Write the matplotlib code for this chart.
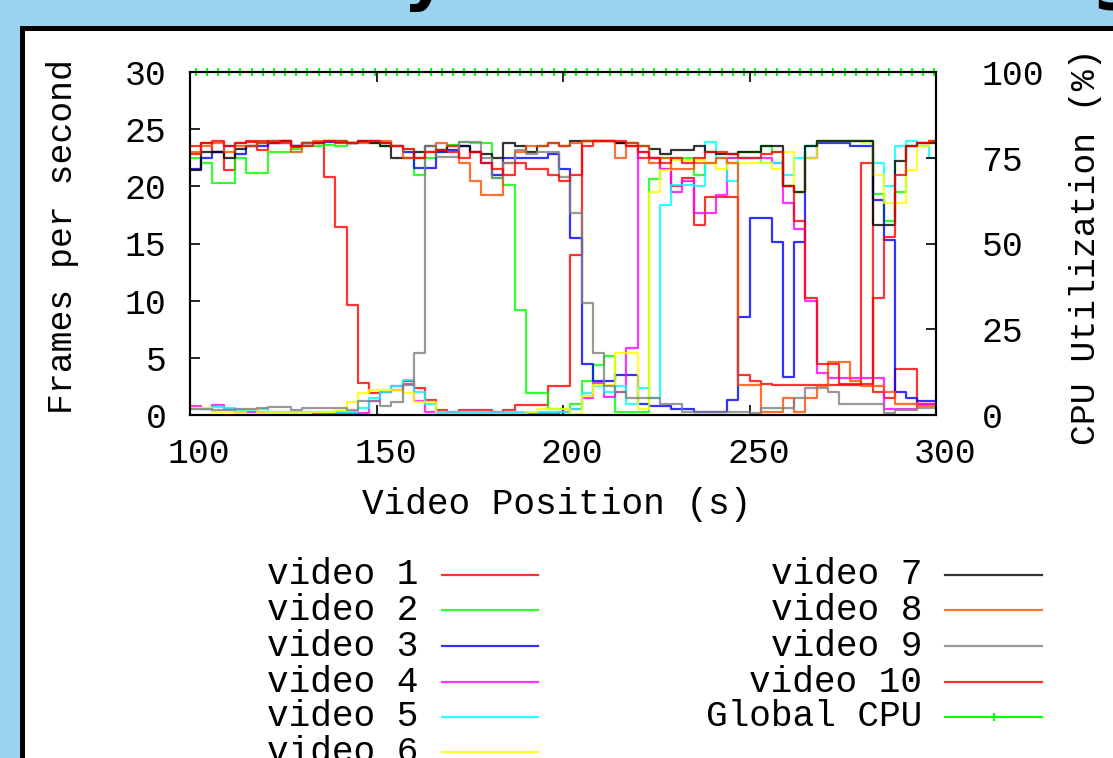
import matplotlib
matplotlib.use('Agg')
import matplotlib.pyplot as plt
from matplotlib.lines import Line2D
from matplotlib.patches import Rectangle
from matplotlib.transforms import ScaledTranslation

plt.rcParams['font.family'] = ['Liberation Mono', 'DejaVu Sans Mono']

W, H = 1113, 758

# start of each 3 s sample (video position, s)
t = list(range(100, 300, 3))

names = ['video 1', 'video 2', 'video 3', 'video 4', 'video 5',
         'video 6', 'video 7', 'video 8', 'video 9', 'video 10']
# gnuplot postscript line colours
colors = ['#ff0000', '#00ff00', '#0000ff', '#ff00ff', '#00ffff',
          '#ffff00', '#000000', '#ff4d00', '#808080', '#ff0000']

# frames per second, one value per sample
video1 = [23.5, 23.8, 23.0, 21.4, 23.8, 23.9, 23.2, 23.8, 24.0, 23.4,
          23.8, 23.9, 20.8, 16.4, 9.6, 2.8, 1.9, 2.0, 2.2, 3.0,
          2.4, 1.3, 0.4, 0.3, 0.4, 0.4, 0.4, 0.3, 0.4, 0.9,
          0.9, 0.9, 2.5, 2.5, 14.0, 24.0, 24.0, 24.0, 23.8, 23.5,
          22.5, 22.5, 21.5, 20.0, 20.7, 16.6, 19.1, 19.1, 19.1, 3.5,
          3.0, 2.7, 2.6, 2.6, 2.6, 2.6, 2.6, 2.6, 2.6, 2.6,
          22.0, 2.0, 1.5, 4.0, 4.0, 1.0, 1.0]
video2 = [22.5, 22.0, 20.3, 20.3, 22.5, 21.2, 21.2, 23.0, 23.0, 23.3,
          23.5, 23.5, 23.6, 23.5, 23.8, 23.9, 23.8, 23.5, 23.5, 23.3,
          21.0, 22.5, 23.0, 23.6, 23.9, 23.8, 23.8, 20.7, 20.1, 9.2,
          1.9, 1.9, 0.5, 0.5, 1.0, 3.0, 4.4, 5.2, 0.3, 0.3,
          0.3, 20.6, 22.5, 22.5, 22.5, 21.0, 22.0, 22.5, 22.5, 23.0,
          23.0, 23.5, 23.0, 20.0, 19.5, 23.5, 24.0, 24.0, 24.0, 24.0,
          24.0, 19.3, 17.0, 19.5, 23.5, 23.8, 24.0]
video3 = [21.5, 22.5, 23.0, 23.5, 22.8, 23.5, 23.5, 23.8, 23.8, 23.5,
          23.8, 23.8, 23.9, 23.9, 23.8, 23.9, 24.0, 23.8, 23.5, 23.0,
          21.6, 21.6, 23.0, 23.2, 23.5, 23.0, 22.0, 21.0, 22.5, 22.5,
          22.5, 22.5, 22.8, 21.5, 15.5, 4.5, 3.0, 3.0, 3.5, 3.5,
          1.0, 0.8, 0.8, 0.5, 0.5, 0.3, 0.3, 0.3, 1.3, 8.6,
          17.2, 17.2, 15.1, 3.3, 15.1, 22.5, 23.8, 23.8, 23.8, 23.5,
          23.5, 18.8, 15.3, 2.0, 1.5, 1.2, 1.2]
video4 = [0.8, 0.5, 0.9, 0.5, 0.3, 0.3, 0.3, 0.3, 0.3, 0.3,
          0.3, 0.2, 0.2, 0.2, 0.2, 0.2, 1.2, 2.0, 2.5, 2.7,
          1.2, 0.3, 0.2, 0.2, 0.2, 0.2, 0.2, 0.2, 0.2, 0.2,
          0.2, 0.2, 0.2, 0.3, 0.5, 1.5, 2.8, 1.6, 2.0, 5.9,
          23.0, 22.5, 21.5, 19.5, 20.5, 17.7, 17.7, 19.2, 22.5, 22.5,
          22.5, 22.5, 22.0, 18.5, 16.3, 10.0, 3.7, 3.2, 3.2, 3.2,
          3.2, 3.2, 0.5, 0.5, 0.5, 1.0, 1.0]
video5 = [0.5, 0.5, 0.7, 0.6, 0.4, 0.4, 0.5, 0.3, 0.3, 0.3,
          0.3, 0.3, 0.3, 0.3, 0.3, 0.6, 1.5, 2.0, 2.5, 3.1,
          2.0, 1.0, 0.3, 0.3, 0.3, 0.3, 0.3, 0.3, 0.3, 0.3,
          0.3, 0.3, 0.3, 0.3, 0.5, 1.9, 2.5, 2.0, 2.5, 1.0,
          2.4, 1.5, 18.4, 20.1, 20.1, 20.0, 23.9, 22.5, 20.5, 22.5,
          22.5, 22.0, 22.0, 21.0, 22.5, 23.5, 24.0, 24.0, 24.0, 24.0,
          24.0, 22.0, 20.0, 23.5, 24.0, 23.5, 22.5]
video6 = [0.6, 0.6, 0.3, 0.3, 0.3, 0.5, 0.3, 0.3, 0.3, 0.3,
          0.3, 0.3, 0.3, 0.4, 1.1, 1.9, 2.2, 2.2, 2.2, 1.9,
          1.1, 1.1, 0.1, 0.1, 0.1, 0.1, 0.1, 0.1, 0.1, 0.1,
          0.3, 0.5, 0.5, 0.5, 0.1, 1.7, 2.6, 2.6, 5.4, 5.4,
          0.5, 19.5, 21.4, 22.3, 22.3, 22.3, 22.0, 21.5, 22.0, 22.0,
          22.0, 22.0, 21.5, 23.0, 19.5, 22.5, 24.0, 24.0, 24.0, 24.0,
          23.8, 21.0, 18.5, 18.5, 21.4, 23.5, 24.0]
video7 = [21.4, 23.0, 23.0, 22.5, 23.3, 23.5, 23.8, 24.0, 24.0, 23.5,
          23.8, 23.8, 24.0, 24.0, 23.8, 24.0, 23.8, 23.5, 22.5, 22.5,
          23.0, 23.5, 23.2, 23.5, 23.5, 23.0, 22.8, 22.5, 23.8, 23.5,
          23.0, 23.5, 23.8, 23.5, 24.0, 24.0, 24.0, 24.0, 23.8, 23.8,
          23.5, 23.3, 22.8, 23.2, 23.2, 23.5, 23.0, 22.8, 22.8, 23.0,
          23.0, 23.5, 23.5, 20.0, 19.5, 23.5, 24.0, 24.0, 24.0, 24.0,
          24.0, 16.6, 16.6, 22.2, 23.5, 23.8, 23.8]
video8 = [23.0, 23.5, 23.8, 23.0, 23.5, 23.5, 23.8, 24.0, 23.8, 23.0,
          23.8, 24.0, 24.0, 24.0, 23.8, 23.8, 24.0, 24.0, 23.5, 22.5,
          22.5, 23.0, 23.8, 23.5, 22.0, 20.5, 19.2, 19.2, 22.0, 23.0,
          23.5, 23.5, 23.8, 23.5, 23.8, 24.0, 24.0, 24.0, 22.5, 23.8,
          23.5, 22.0, 22.5, 21.5, 21.5, 22.0, 22.0, 22.5, 22.0, 2.6,
          2.6, 0.3, 0.3, 1.5, 0.3, 1.5, 2.5, 4.6, 4.6, 3.0,
          2.5, 2.5, 2.0, 1.0, 1.0, 0.8, 0.8]
video9 = [0.5, 0.5, 0.4, 0.4, 0.5, 0.5, 0.6, 0.7, 0.7, 0.4,
          0.6, 0.6, 0.6, 0.6, 0.4, 1.2, 1.2, 0.8, 1.1, 2.6,
          5.4, 23.5, 22.6, 22.6, 23.9, 23.9, 22.5, 20.7, 22.0, 23.2,
          22.8, 23.0, 23.0, 20.8, 17.7, 9.8, 5.4, 2.5, 2.0, 1.5,
          1.5, 1.5, 1.0, 1.0, 0.3, 0.3, 0.3, 0.3, 0.3, 0.3,
          0.2, 0.6, 0.6, 0.6, 1.5, 2.4, 2.4, 2.0, 1.0, 1.0,
          1.0, 1.0, 0.2, 0.4, 0.4, 0.6, 0.6]
video10 = [22.8, 23.8, 24.0, 23.5, 23.8, 24.0, 24.0, 23.8, 24.0, 23.5,
           23.5, 23.8, 24.0, 23.8, 23.8, 24.0, 24.0, 23.8, 23.5, 23.3,
           22.5, 23.0, 23.2, 23.0, 22.5, 23.0, 22.0, 21.5, 21.0, 22.0,
           21.5, 21.5, 21.0, 20.5, 21.0, 23.5, 24.0, 24.0, 24.0, 23.5,
           23.0, 22.5, 22.0, 22.5, 22.0, 22.5, 23.0, 23.0, 22.8, 22.5,
           22.5, 22.8, 23.0, 20.0, 17.0, 10.2, 4.5, 4.5, 2.7, 2.7,
           2.7, 10.2, 15.6, 21.0, 23.5, 23.8, 24.0]

series = [video1, video2, video3, video4, video5,
          video6, video7, video8, video9, video10]

# global CPU utilisation (%), sampled half way through each step
cpu_t = [x + 1.5 for x in t]
cpu_util = [100] * 67

fig = plt.figure(figsize=(W / 100, H / 100), dpi=100)
fig.patch.set_facecolor('#9ad3f0')
fig.add_artist(Rectangle((22 / W, -0.1), 1.2, 1.1 - 28.5 / H,
                         transform=fig.transFigure, facecolor='white',
                         edgecolor='black', lw=3.6, zorder=-1))

# bits of the cropped title above the panel
fig.text(425 / W, 1 + 3 / H, 'y', fontsize=50, fontweight='bold',
         family='DejaVu Sans', ha='center', va='baseline')
fig.text(1091 / W, 1 + 3 / H, 'g', fontsize=50, fontweight='bold',
         family='DejaVu Sans', ha='left', va='baseline')

ax = fig.add_axes([190 / W, 1 - 415 / H, 746 / W, 343 / H])
for vals, c in zip(series, colors):
    ax.step(t + [300], vals + [vals[-1]], where='post', color=c,
            lw=1.6, alpha=0.8)
ax.set_xlim(100, 300)
ax.set_ylim(0, 30)
ax.set_xticks([100, 150, 200, 250, 300])
ax.set_yticks([0, 5, 10, 15, 20, 25, 30])
ax.tick_params(axis='x', direction='in', length=7, width=1.2, top=True,
               labelsize=25, pad=16)
ax.tick_params(axis='y', direction='in', length=7, width=1.2, right=False,
               labelsize=25, pad=17)
# gnuplot sets its x labels a little right of the tics
shift = ScaledTranslation(9 / 100, 0, fig.dpi_scale_trans)
for lab in ax.get_xticklabels():
    lab.set_transform(lab.get_transform() + shift)

ax2 = ax.twinx()
ax2.plot(cpu_t, cpu_util, color='#00ff00', lw=1.5, marker='|', ms=6,
         mew=1.5, clip_on=False)
ax2.set_ylim(0, 100)
ax2.set_yticks([0, 25, 50, 75, 100])
ax2.tick_params(axis='y', direction='in', length=7, width=1.2,
                labelsize=25, pad=33)
for a in (ax, ax2):
    for s in a.spines.values():
        s.set_linewidth(1.5)

fig.text(557 / W, 1 - 505 / H, 'Video Position (s)', fontsize=26,
         ha='center', va='center')
fig.text(63 / W, 1 - 237 / H, 'Frames per second', fontsize=25,
         rotation=90, ha='center', va='center')
fig.text(1085 / W, 1 - 247 / H, 'CPU Utilization (%)', fontsize=25,
         rotation=90, ha='center', va='center')

# legend, drawn by hand in two columns like gnuplot's key
rows = [575, 610, 646, 682, 717, 752]
for i, (name, c) in enumerate(zip(names, colors)):
    if i < 6:
        xr, x0, x1, y = 418, 442, 538, rows[i]
    else:
        xr, x0, x1, y = 922, 945, 1042, rows[i - 6]
    fig.text(xr / W, 1 - y / H, name, fontsize=26, ha='right', va='center')
    fig.add_artist(Line2D([x0 / W, x1 / W], [1 - y / H, 1 - y / H],
                          color=c, lw=1.6, alpha=0.8))
y = rows[4]
fig.text(922 / W, 1 - y / H, 'Global CPU', fontsize=26, ha='right',
         va='center')
fig.add_artist(Line2D([945 / W, 1042 / W], [1 - y / H, 1 - y / H],
                      color='#00ff00', lw=1.5))
fig.add_artist(Line2D([993.5 / W], [1 - y / H], color='#00ff00',
                      marker='|', ms=6, mew=1.5))

fig.savefig('out.png', dpi=100, facecolor=fig.get_facecolor())
